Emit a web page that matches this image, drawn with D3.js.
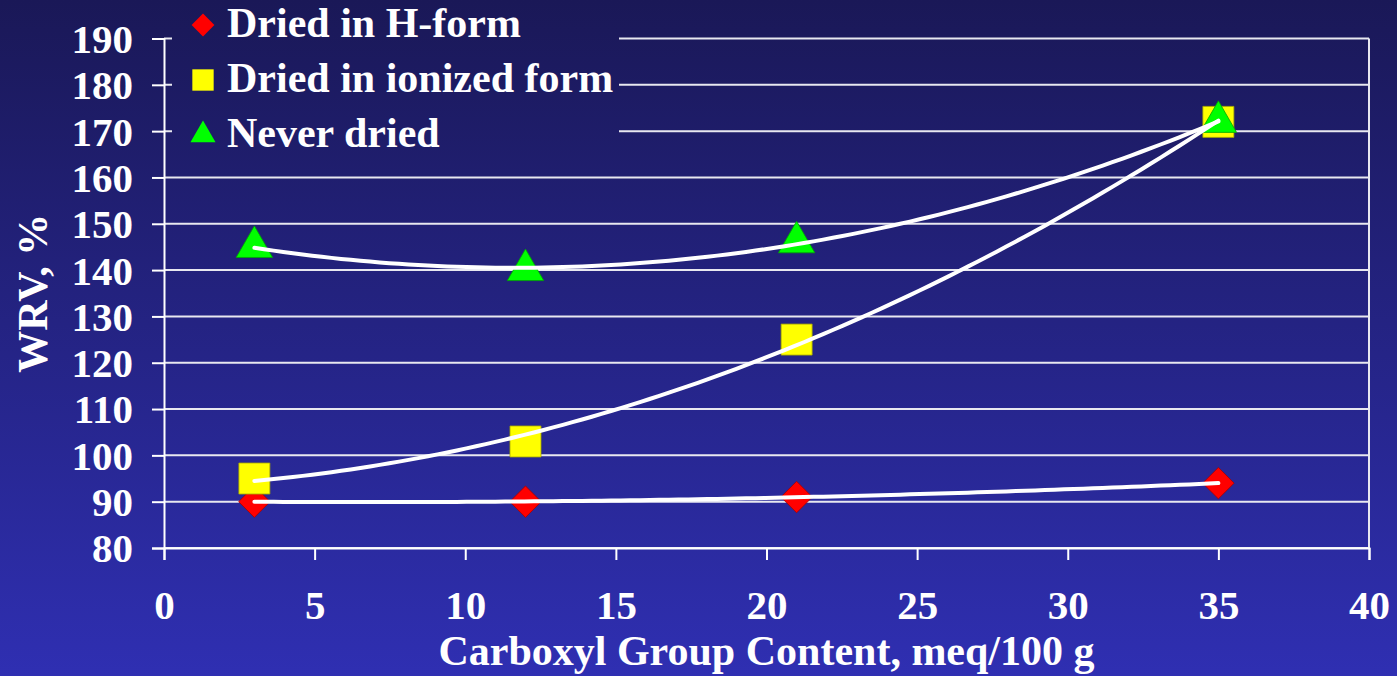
<!DOCTYPE html>
<html>
<head>
<meta charset="utf-8">
<script src="https://cdn.jsdelivr.net/npm/d3@7"></script>
<style>
  body { margin: 0; padding: 0; overflow: hidden; }
  text { font-family: "Liberation Serif", "Times New Roman", serif; font-weight: bold; fill: #ffffff; }
</style>
</head>
<body>
<div id="chart"></div>
<script>
// Chart data
const carboxyl = [3, 12, 21, 35];
const driedHForm = [90, 90, 91, 94];
const driedIonized = [95, 103, 125, 172];
const neverDried = [145, 140, 146, 172];
const seriesNames = ["Dried in H-form", "Dried in ionized form", "Never dried"];
const xTickValues = [0, 5, 10, 15, 20, 25, 30, 35, 40];
const yTickValues = [80, 90, 100, 110, 120, 130, 140, 150, 160, 170, 180, 190];

const W = 1397, H = 676;
const margin = {top: 38.5, right: 28, bottom: 128, left: 164};
const width = W - margin.left - margin.right;
const height = H - margin.top - margin.bottom;

const svg = d3.select("#chart").append("svg")
    .attr("width", W)
    .attr("height", H);

// Background gradient
const defs = svg.append("defs");
const grad = defs.append("linearGradient")
    .attr("id", "bg")
    .attr("gradientUnits", "userSpaceOnUse")
    .attr("x1", 0).attr("y1", 0).attr("x2", 0).attr("y2", H);
grad.append("stop").attr("offset", "0%").attr("stop-color", "#1a1857");
grad.append("stop").attr("offset", "100%").attr("stop-color", "#2f2fb2");

svg.append("rect")
    .attr("width", W).attr("height", H)
    .attr("fill", "url(#bg)");

const g = svg.append("g")
    .attr("transform", `translate(${margin.left},${margin.top})`);

// Scales
const x = d3.scaleLinear().domain([0, 40]).range([0, width]);
const y = d3.scaleLinear().domain([80, 190]).range([height, 0]);

// Gridlines
g.append("g")
    .selectAll("line")
    .data(yTickValues)
    .enter().append("line")
    .attr("x1", 0).attr("x2", width)
    .attr("y1", d => y(d)).attr("y2", d => y(d))
    .attr("stroke", "#e8e8f0")
    .attr("stroke-width", 2);

// Right border
g.append("line")
    .attr("x1", width).attr("x2", width)
    .attr("y1", 0).attr("y2", height)
    .attr("stroke", "#e8e8f0")
    .attr("stroke-width", 2);

// Axes
const xAxis = g.append("g")
    .attr("transform", `translate(0,${height})`)
    .call(d3.axisBottom(x).tickValues(xTickValues).tickSize(12).tickPadding(30));
const yAxis = g.append("g")
    .call(d3.axisLeft(y).tickValues(yTickValues).tickSize(12).tickPadding(19));

[xAxis, yAxis].forEach(ax => {
    ax.select(".domain").attr("stroke", "#ffffff").attr("stroke-width", 2);
    ax.selectAll(".tick line").attr("stroke", "#ffffff").attr("stroke-width", 2);
    ax.selectAll(".tick text")
        .attr("fill", "#ffffff")
        .style("font-family", "'Liberation Serif', 'Times New Roman', serif")
        .style("font-weight", "bold")
        .style("font-size", "41px");
});
yAxis.selectAll(".tick text").attr("dy", "0.34em");

// Axis titles
svg.append("text")
    .attr("x", margin.left + width / 2)
    .attr("y", 665)
    .attr("text-anchor", "middle")
    .style("font-size", "42px")
    .text("Carboxyl Group Content, meq/100 g");

svg.append("text")
    .attr("transform", `translate(47, ${margin.top + height / 2}) rotate(-90)`)
    .attr("text-anchor", "middle")
    .style("font-size", "42px")
    .text("WRV, %");

// Marker shapes
const shapes = [
    {name: seriesNames[0], values: driedHForm, color: "#ff0000", symbol: d3.symbolDiamond2, size: 630, legendSize: 330},
    {name: seriesNames[1], values: driedIonized, color: "#ffff00", symbol: d3.symbolSquare2, size: 1225, legendSize: 580},
    {name: seriesNames[2], values: neverDried, color: "#00ff00", symbol: d3.symbolTriangle2, size: 950, legendSize: 450}
];

// Markers
shapes.forEach(s => {
    g.append("g")
        .selectAll("path")
        .data(carboxyl.map((c, i) => ({x: c, y: s.values[i]})))
        .enter().append("path")
        .attr("transform", d => `translate(${x(d.x)},${y(d.y)})`)
        .attr("d", d3.symbol().type(s.symbol).size(s.size))
        .attr("fill", s.color)
        .attr("stroke", d3.color(s.color).darker(1.2))
        .attr("stroke-width", 0.8);
});

// Second order polynomial trendlines (least squares on the points)
function quadFit(xs, ys) {
    const n = xs.length;
    let s = [0, 0, 0, 0, 0], t = [0, 0, 0];
    for (let i = 0; i < n; i++) {
        for (let k = 0; k < 5; k++) s[k] += Math.pow(xs[i], k);
        for (let k = 0; k < 3; k++) t[k] += ys[i] * Math.pow(xs[i], k);
    }
    const A = [[s[0], s[1], s[2], t[0]], [s[1], s[2], s[3], t[1]], [s[2], s[3], s[4], t[2]]];
    for (let i = 0; i < 3; i++) {
        for (let j = i + 1; j < 3; j++) {
            const f = A[j][i] / A[i][i];
            for (let k = i; k < 4; k++) A[j][k] -= f * A[i][k];
        }
    }
    const c = [0, 0, 0];
    for (let i = 2; i >= 0; i--) {
        let v = A[i][3];
        for (let k = i + 1; k < 3; k++) v -= A[i][k] * c[k];
        c[i] = v / A[i][i];
    }
    return xv => c[0] + c[1] * xv + c[2] * xv * xv;
}

const line = d3.line()
    .x(d => x(d[0]))
    .y(d => y(d[1]));

const x0 = d3.min(carboxyl), x1 = d3.max(carboxyl);
shapes.forEach(s => {
    const f = quadFit(carboxyl, s.values);
    const pts = d3.range(0, 101).map(i => {
        const xv = x0 + (x1 - x0) * i / 100;
        return [xv, f(xv)];
    });
    g.append("path")
        .datum(pts)
        .attr("d", line)
        .attr("fill", "none")
        .attr("stroke", "#ffffff")
        .attr("stroke-width", 4)
        .attr("stroke-linecap", "round");
});

// Legend
const legend = svg.append("g");
legend.append("rect")
    .attr("x", 172).attr("y", 0)
    .attr("width", 447).attr("height", 158)
    .attr("fill", "url(#bg)");

shapes.forEach((s, i) => {
    const cy = 25 + i * 55;
    legend.append("path")
        .attr("transform", `translate(203,${cy})`)
        .attr("d", d3.symbol().type(s.symbol).size(s.legendSize))
        .attr("fill", s.color);
    legend.append("text")
        .attr("x", 227)
        .attr("y", 37 + i * 55)
        .style("font-size", "42px")
        .text(s.name);
});
</script>
</body>
</html>
